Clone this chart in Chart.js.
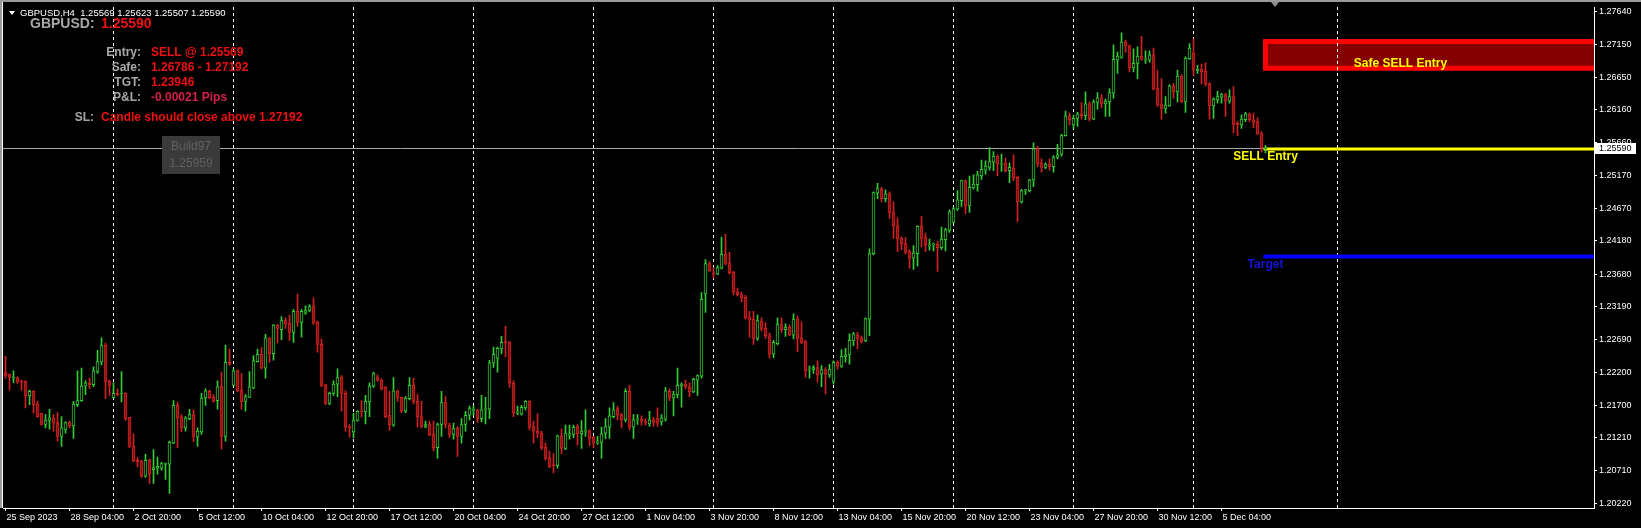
<!DOCTYPE html>
<html>
<head>
<meta charset="utf-8">
<script src="https://cdn.jsdelivr.net/npm/chart.js@4.4.1/dist/chart.umd.min.js"></script>
<style>
  html, body { margin: 0; padding: 0; background: #000; }
  #wrap { width: 1641px; height: 528px; position: relative; }
</style>
</head>
<body>
<div id="wrap"><canvas id="canvas"></canvas></div>
<script>
// GBPUSD H4, 25 Sep 2023 12:00 .. 7 Dec 2023 00:00 (one entry per bar)
const opens = [
  1.2220,1.2217,1.2211,1.2212,1.2207,1.2206,1.2184,1.2191,1.2172,1.2158,
  1.2141,1.2147,1.2151,1.2144,1.2123,1.2133,1.2144,1.2139,1.2171,1.2177,
  1.2199,1.2203,1.2201,1.2221,1.2235,1.2261,1.2206,1.2181,1.2188,1.2187,
  1.2188,1.2152,1.2108,1.2087,1.2086,1.2063,1.2088,1.2073,1.2075,1.2075,
  1.2081,1.2081,1.2113,1.2170,1.2153,1.2136,1.2150,1.2156,1.2122,1.2130,
  1.2181,1.2191,1.2182,1.2177,1.2199,1.2123,1.2235,1.2200,1.2222,1.2193,
  1.2176,1.2182,1.2196,1.2236,1.2247,1.2226,1.2272,1.2248,1.2291,1.2284,
  1.2298,1.2294,1.2280,1.2312,1.2295,1.2309,1.2313,1.2320,1.2296,1.2262,
  1.2201,1.2173,1.2188,1.2202,1.2213,1.2188,1.2138,1.2130,1.2147,1.2161,
  1.2160,1.2175,1.2199,1.2213,1.2208,1.2198,1.2155,1.2140,1.2192,1.2182,
  1.2161,1.2180,1.2200,1.2176,1.2153,1.2138,1.2142,1.2126,1.2106,1.2141,
  1.2174,1.2140,1.2126,1.2136,1.2123,1.2141,1.2155,1.2162,1.2163,1.2150,
  1.2163,1.2164,1.2234,1.2241,1.2255,1.2266,1.2265,1.2203,1.2158,1.2157,
  1.2166,1.2176,1.2138,1.2131,1.2128,1.2107,1.2091,1.2080,1.2079,1.2124,
  1.2105,1.2125,1.2126,1.2138,1.2127,1.2131,1.2132,1.2122,1.2113,1.2114,
  1.2128,1.2137,1.2153,1.2165,1.2156,1.2148,1.2191,1.2137,1.2148,1.2149,
  1.2146,1.2142,1.2148,1.2150,1.2145,1.2149,1.2191,1.2181,1.2186,1.2200,
  1.2202,1.2198,1.2190,1.2208,1.2214,1.2338,1.2384,1.2370,1.2368,1.2377,
  1.2398,1.2385,1.2371,1.2341,1.2337,1.2333,1.2303,1.2300,1.2271,1.2297,
  1.2286,1.2275,1.2247,1.2263,1.2292,1.2284,1.2288,1.2276,1.2300,1.2272,
  1.2266,1.2223,1.2224,1.2227,1.2217,1.2224,1.2216,1.2206,1.2235,1.2229,
  1.2243,1.2246,1.2267,1.2276,1.2272,1.2267,1.2300,1.2399,1.2490,1.2496,
  1.2482,1.2489,1.2461,1.2441,1.2422,1.2414,1.2402,1.2392,1.2399,1.2440,
  1.2423,1.2410,1.2412,1.2413,1.2408,1.2420,1.2434,1.2446,1.2466,1.2479,
  1.2509,1.2471,1.2498,1.2503,1.2516,1.2525,1.2529,1.2537,1.2546,1.2534,
  1.2535,1.2524,1.2528,1.2514,1.2477,1.2493,1.2494,1.2510,1.2557,1.2536,
  1.2529,1.2534,1.2530,1.2544,1.2549,1.2577,1.2607,1.2593,1.2603,1.2610,
  1.2607,1.2625,1.2602,1.2627,1.2634,1.2625,1.2628,1.2641,1.2691,1.2695,
  1.2718,1.2712,1.2679,1.2686,1.2697,1.2691,1.2691,1.2699,1.2648,1.2624,
  1.2618,1.2622,1.2652,1.2643,1.2667,1.2628,1.2693,1.2701,1.2675,1.2677,
  1.2674,1.2655,1.2622,1.2631,1.2635,1.2639,1.2629,1.2636,1.2596,1.2593,
  1.2601,1.2610,1.2601,1.2598,1.2580,1.25569
];
const highs = [
  1.2244,1.2217,1.2222,1.2213,1.2208,1.2207,1.2193,1.2192,1.2176,1.2158,
  1.2156,1.2164,1.2156,1.2159,1.2153,1.2145,1.2146,1.2176,1.2222,1.2226,
  1.2207,1.2211,1.2228,1.2253,1.2272,1.2264,1.2208,1.2204,1.2195,1.2221,
  1.2189,1.2152,1.2127,1.2091,1.2087,1.2096,1.2088,1.2103,1.2092,1.2084,
  1.2083,1.2116,1.2177,1.2175,1.2156,1.2153,1.2164,1.2163,1.2136,1.2188,
  1.2195,1.2193,1.2186,1.2207,1.2220,1.2261,1.2255,1.2225,1.2224,1.2218,
  1.2186,1.2221,1.2245,1.2255,1.2257,1.2277,1.2272,1.2292,1.2292,1.2304,
  1.2302,1.2306,1.2315,1.2338,1.2315,1.2320,1.2322,1.2332,1.2297,1.2270,
  1.2202,1.2190,1.2207,1.2225,1.2215,1.2192,1.2141,1.2158,1.2162,1.2177,
  1.2185,1.2204,1.2220,1.2216,1.2210,1.2198,1.2191,1.2212,1.2193,1.2182,
  1.2183,1.2212,1.2211,1.2186,1.2176,1.2146,1.2146,1.2146,1.2143,1.2191,
  1.2183,1.2143,1.2143,1.2138,1.2150,1.2161,1.2169,1.2169,1.2164,1.2185,
  1.2182,1.2238,1.2258,1.2258,1.2274,1.2289,1.2266,1.2207,1.2169,1.2170,
  1.2177,1.2177,1.2146,1.2157,1.2131,1.2113,1.2101,1.2097,1.2125,1.2134,
  1.2140,1.2140,1.2140,1.2141,1.2147,1.2163,1.2133,1.2123,1.2123,1.2137,
  1.2150,1.2166,1.2174,1.2169,1.2158,1.2195,1.2200,1.2156,1.2156,1.2154,
  1.2150,1.2161,1.2152,1.2166,1.2156,1.2197,1.2195,1.2191,1.2226,1.2204,
  1.2208,1.2204,1.2211,1.2216,1.2340,1.2390,1.2387,1.2378,1.2381,1.2424,
  1.2428,1.2401,1.2372,1.2347,1.2341,1.2336,1.2312,1.2312,1.2306,1.2302,
  1.2295,1.2279,1.2268,1.2302,1.2302,1.2293,1.2291,1.2308,1.2305,1.2296,
  1.2268,1.2229,1.2230,1.2237,1.2230,1.2227,1.2232,1.2237,1.2237,1.2254,
  1.2256,1.2278,1.2280,1.2280,1.2275,1.2302,1.2406,1.2492,1.2505,1.2499,
  1.2495,1.2492,1.2477,1.2453,1.2424,1.2423,1.2405,1.2411,1.2441,1.2455,
  1.2430,1.2421,1.2415,1.2418,1.2439,1.2437,1.2465,1.2469,1.2494,1.2510,
  1.2510,1.2516,1.2518,1.2523,1.2540,1.2539,1.2559,1.2553,1.2548,1.2549,
  1.2543,1.2536,1.2548,1.2516,1.2496,1.2496,1.2511,1.2566,1.2561,1.2542,
  1.2536,1.2542,1.2547,1.2564,1.2579,1.2614,1.2611,1.2608,1.2612,1.2627,
  1.2643,1.2628,1.2631,1.2642,1.2639,1.2632,1.2648,1.2714,1.2703,1.2732,
  1.2721,1.2714,1.2708,1.2711,1.2727,1.2705,1.2705,1.2709,1.2676,1.2663,
  1.2636,1.2654,1.2656,1.2676,1.2669,1.2696,1.2716,1.2723,1.2683,1.2685,
  1.2687,1.2657,1.2634,1.2644,1.2641,1.2641,1.2646,1.2651,1.2598,1.2608,
  1.2612,1.2611,1.2611,1.2604,1.2583,1.25623
];
const lows = [
  1.2211,1.2193,1.2204,1.2203,1.2193,1.2166,1.2171,1.2158,1.2152,1.2140,
  1.2136,1.2134,1.2131,1.2116,1.2108,1.2128,1.2136,1.2120,1.2168,1.2176,
  1.2186,1.2195,1.2198,1.2218,1.2231,1.2180,1.2185,1.2181,1.2184,1.2175,
  1.2147,1.2106,1.2085,1.2077,1.2061,1.2061,1.2052,1.2052,1.2066,1.2072,
  1.2058,1.2037,1.2112,1.2106,1.2130,1.2131,1.2148,1.2115,1.2108,1.2126,
  1.2170,1.2180,1.2175,1.2164,1.2104,1.2116,1.2230,1.2199,1.2191,1.2164,
  1.2161,1.2182,1.2195,1.2235,1.2225,1.2211,1.2235,1.2238,1.2264,1.2269,
  1.2286,1.2268,1.2265,1.2289,1.2273,1.2307,1.2311,1.2292,1.2250,1.2198,
  1.2171,1.2171,1.2185,1.2183,1.2161,1.2131,1.2122,1.2121,1.2146,1.2152,
  1.2142,1.2153,1.2197,1.2206,1.2193,1.2151,1.2132,1.2138,1.2176,1.2159,
  1.2159,1.2178,1.2172,1.2137,1.2136,1.2136,1.2124,1.2101,1.2090,1.2123,
  1.2136,1.2121,1.2119,1.2093,1.2113,1.2131,1.2148,1.2155,1.2144,1.2145,
  1.2142,1.2150,1.2227,1.2220,1.2248,1.2243,1.2197,1.2153,1.2156,1.2155,
  1.2163,1.2133,1.2113,1.2121,1.2103,1.2087,1.2076,1.2068,1.2075,1.2097,
  1.2103,1.2119,1.2121,1.2110,1.2105,1.2123,1.2109,1.2106,1.2111,1.2090,
  1.2120,1.2120,1.2151,1.2148,1.2136,1.2145,1.2133,1.2120,1.2141,1.2140,
  1.2140,1.2138,1.2138,1.2138,1.2140,1.2146,1.2177,1.2154,1.2181,1.2167,
  1.2195,1.2183,1.2189,1.2185,1.2211,1.2310,1.2372,1.2362,1.2367,1.2376,
  1.2382,1.2368,1.2337,1.2335,1.2326,1.2300,1.2273,1.2262,1.2268,1.2282,
  1.2271,1.2241,1.2242,1.2261,1.2280,1.2274,1.2275,1.2270,1.2251,1.2263,
  1.2212,1.2211,1.2218,1.2205,1.2198,1.2187,1.2212,1.2202,1.2224,1.2227,
  1.2235,1.2232,1.2260,1.2255,1.2264,1.2266,1.2275,1.2397,1.2482,1.2477,
  1.2477,1.2452,1.2422,1.2402,1.2405,1.2398,1.2377,1.2375,1.2380,1.2409,
  1.2402,1.2404,1.2403,1.2372,1.2405,1.2403,1.2431,1.2445,1.2464,1.2470,
  1.2459,1.2461,1.2496,1.2493,1.2511,1.2519,1.2525,1.2524,1.2516,1.2523,
  1.2522,1.2506,1.2509,1.2447,1.2475,1.2488,1.2492,1.2500,1.2530,1.2522,
  1.2527,1.2525,1.2522,1.2542,1.2546,1.2576,1.2593,1.2588,1.2591,1.2602,
  1.2601,1.2599,1.2601,1.2617,1.2619,1.2606,1.2606,1.2633,1.2671,1.2694,
  1.2703,1.2673,1.2673,1.2663,1.2691,1.2686,1.2688,1.2646,1.2621,1.2602,
  1.2611,1.2621,1.2633,1.2628,1.2627,1.2612,1.2692,1.2668,1.2671,1.2655,
  1.2652,1.2602,1.2603,1.2626,1.2626,1.2606,1.2626,1.2581,1.2577,1.2588,
  1.2598,1.2598,1.2589,1.2579,1.2552,1.25507
];
const closes = [
  1.2215,1.2212,1.2213,1.2205,1.2205,1.2184,1.2191,1.2171,1.2153,1.2141,
  1.2147,1.2151,1.2143,1.2123,1.2136,1.2144,1.2139,1.2172,1.2177,1.2199,
  1.2204,1.2201,1.2222,1.2236,1.2260,1.2206,1.2200,1.2188,1.2186,1.2188,
  1.2150,1.2108,1.2086,1.2084,1.2063,1.2087,1.2066,1.2076,1.2078,1.2082,
  1.2082,1.2114,1.2170,1.2151,1.2136,1.2151,1.2156,1.2123,1.2131,1.2181,
  1.2192,1.2181,1.2176,1.2198,1.2123,1.2235,1.2232,1.2222,1.2192,1.2176,
  1.2183,1.2198,1.2237,1.2247,1.2226,1.2272,1.2248,1.2291,1.2286,1.2298,
  1.2293,1.2280,1.2312,1.2295,1.2312,1.2313,1.2319,1.2294,1.2262,1.2200,
  1.2173,1.2188,1.2202,1.2212,1.2188,1.2137,1.2136,1.2147,1.2161,1.2160,
  1.2176,1.2199,1.2218,1.2208,1.2195,1.2153,1.2140,1.2192,1.2182,1.2161,
  1.2181,1.2200,1.2176,1.2153,1.2138,1.2141,1.2125,1.2106,1.2141,1.2174,
  1.2141,1.2126,1.2135,1.2123,1.2141,1.2155,1.2165,1.2163,1.2150,1.2163,
  1.2164,1.2234,1.2247,1.2256,1.2265,1.2264,1.2204,1.2159,1.2160,1.2167,
  1.2176,1.2137,1.2131,1.2128,1.2106,1.2090,1.2077,1.2079,1.2124,1.2105,
  1.2128,1.2127,1.2137,1.2127,1.2131,1.2132,1.2120,1.2113,1.2114,1.2127,
  1.2138,1.2154,1.2163,1.2155,1.2148,1.2191,1.2137,1.2148,1.2149,1.2146,
  1.2144,1.2148,1.2144,1.2143,1.2151,1.2192,1.2181,1.2186,1.2200,1.2202,
  1.2198,1.2190,1.2209,1.2215,1.2330,1.2384,1.2373,1.2368,1.2378,1.2398,
  1.2384,1.2370,1.2341,1.2337,1.2332,1.2302,1.2299,1.2271,1.2298,1.2285,
  1.2275,1.2247,1.2265,1.2292,1.2284,1.2288,1.2276,1.2300,1.2271,1.2265,
  1.2222,1.2224,1.2227,1.2216,1.2224,1.2217,1.2224,1.2235,1.2229,1.2244,
  1.2246,1.2268,1.2278,1.2271,1.2266,1.2301,1.2399,1.2491,1.2497,1.2482,
  1.2489,1.2461,1.2441,1.2421,1.2414,1.2401,1.2392,1.2400,1.2440,1.2422,
  1.2412,1.2412,1.2413,1.2408,1.2421,1.2435,1.2462,1.2467,1.2480,1.2509,
  1.2471,1.2499,1.2504,1.2518,1.2526,1.2531,1.2538,1.2546,1.2534,1.2535,
  1.2524,1.2529,1.2513,1.2477,1.2494,1.2495,1.2510,1.2557,1.2535,1.2529,
  1.2534,1.2530,1.2544,1.2548,1.2577,1.2607,1.2601,1.2603,1.2610,1.2607,
  1.2625,1.2602,1.2628,1.2634,1.2625,1.2629,1.2642,1.2692,1.2697,1.2718,
  1.2712,1.2679,1.2686,1.2697,1.2692,1.2692,1.2699,1.2647,1.2623,1.2618,
  1.2623,1.2652,1.2643,1.2667,1.2628,1.2694,1.2709,1.2676,1.2677,1.2673,
  1.2655,1.2622,1.2632,1.2636,1.2639,1.2629,1.2636,1.2594,1.2593,1.2602,
  1.2610,1.2601,1.2597,1.2580,1.2558,1.25590
];

const priceTicks = [1.27640, 1.27150, 1.26650, 1.26160, 1.25660, 1.25170, 1.24670, 1.24180,
  1.23680, 1.23190, 1.22690, 1.22200, 1.21700, 1.21210, 1.20710, 1.20220];
// one time label every 16 bars
const dateLabels = ['25 Sep 2023', '28 Sep 04:00', '2 Oct 20:00', '5 Oct 12:00', '10 Oct 04:00',
  '12 Oct 20:00', '17 Oct 12:00', '20 Oct 04:00', '24 Oct 20:00', '27 Oct 12:00', '1 Nov 04:00',
  '3 Nov 20:00', '8 Nov 12:00', '13 Nov 04:00', '15 Nov 20:00', '20 Nov 12:00', '23 Nov 04:00',
  '27 Nov 20:00', '30 Nov 12:00', '5 Dec 04:00'];
// bars where a week starts (Monday 00:00), plus one in the shifted future area
const weekLines = [27, 57, 87, 117, 147, 177, 207, 237, 267, 297, 333];

const bid = 1.25590;
const sellEntry = 1.25569;
const safeLow = 1.26786, safeHigh = 1.27192;
const target = 1.23946;

const BULL = '#32cd32', BEAR = '#d42020';
const FONT = 'Liberation Sans';

const up = closes.map((c, i) => c >= opens[i]);
const bodies = opens.map((o, i) => ({ x: i, y: [o, closes[i]] }));
const wicks = lows.map((l, i) => ({ x: i, y: [l, highs[i]] }));

const overlay = {
  id: 'overlay',
  beforeDraw(chart) {
    const { ctx, chartArea: a, scales: { x, y } } = chart;
    ctx.save();
    ctx.fillStyle = '#000';
    ctx.fillRect(0, 0, chart.width, chart.height);
    // safe sell zone
    const xl = x.getPixelForValue(314.5) + 2;
    const yt = y.getPixelForValue(safeHigh), yb = y.getPixelForValue(safeLow);
    ctx.fillStyle = '#850000';
    ctx.fillRect(xl, yt, a.right - xl, yb - yt);
    ctx.strokeStyle = '#ff0000';
    ctx.lineWidth = 5;
    ctx.beginPath();
    ctx.moveTo(a.right, yt); ctx.lineTo(xl, yt); ctx.lineTo(xl, yb); ctx.lineTo(a.right, yb);
    ctx.stroke();
    ctx.restore();
  },
  beforeDatasetsDraw(chart) {
    const { ctx, chartArea: a, scales: { x, y } } = chart;
    const xl = x.getPixelForValue(314.5);
    ctx.save();
    // bid line
    const yb = Math.round(y.getPixelForValue(bid)) + 0.5;
    ctx.strokeStyle = '#a8a8a8';
    ctx.lineWidth = 1;
    ctx.beginPath(); ctx.moveTo(a.left, yb); ctx.lineTo(a.right, yb); ctx.stroke();
    // sell entry
    ctx.strokeStyle = '#ffff00';
    ctx.lineWidth = 3;
    const ys = y.getPixelForValue(sellEntry);
    ctx.beginPath(); ctx.moveTo(xl, ys); ctx.lineTo(a.right, ys); ctx.stroke();
    // target
    ctx.strokeStyle = '#0000ff';
    ctx.lineWidth = 4;
    const yg = y.getPixelForValue(target);
    ctx.beginPath(); ctx.moveTo(xl, yg); ctx.lineTo(a.right, yg); ctx.stroke();
    ctx.restore();
  },
  afterDraw(chart) {
    const { ctx, chartArea: a, scales: { x, y } } = chart;
    const xl = x.getPixelForValue(314.5);
    ctx.save();
    ctx.textBaseline = 'middle';

    // labels for the levels
    ctx.font = `bold 12px ${FONT}`;
    ctx.textAlign = 'center';
    ctx.fillStyle = '#ffff00';
    ctx.fillText('Safe SELL Entry', xl + 137, y.getPixelForValue(safeLow) - 5);
    ctx.fillText('SELL Entry', xl + 2, y.getPixelForValue(sellEntry) + 8);
    ctx.fillStyle = '#1414d8';
    ctx.fillText('Target', xl + 2, y.getPixelForValue(target) + 8);

    // header
    ctx.fillStyle = '#fff';
    ctx.beginPath(); ctx.moveTo(9, 11); ctx.lineTo(15, 11); ctx.lineTo(12, 15); ctx.closePath(); ctx.fill();
    ctx.textAlign = 'left';
    ctx.font = `9.5px ${FONT}`;
    ctx.fillText('GBPUSD,H4  1.25569 1.25623 1.25507 1.25590', 20, 13);

    ctx.font = `bold 14px ${FONT}`;
    ctx.fillStyle = '#a9a9a9';
    ctx.fillText('GBPUSD:', 30, 24);
    ctx.fillStyle = '#ee1111';
    ctx.fillText(bid.toFixed(5), 101, 24);

    const rows = [
      ['Entry:', 'SELL @ ' + sellEntry.toFixed(5), '#ee1111', 52.5],
      ['Safe:', safeLow.toFixed(5) + ' - ' + safeHigh.toFixed(5), '#ee1111', 67.5],
      ['TGT:', target.toFixed(5), '#ee1111', 82.5],
      ['P&L:', '-0.00021 Pips', '#d4204c', 97.5]
    ];
    ctx.font = `bold 12px ${FONT}`;
    rows.forEach(([k, v, c, yy]) => {
      ctx.textAlign = 'right'; ctx.fillStyle = '#a9a9a9'; ctx.fillText(k, 141, yy);
      ctx.textAlign = 'left'; ctx.fillStyle = c; ctx.fillText(v, 151, yy);
    });
    ctx.textAlign = 'right'; ctx.fillStyle = '#a9a9a9'; ctx.fillText('SL:', 94, 117.5);
    ctx.textAlign = 'left'; ctx.fillStyle = '#ee1111';
    ctx.fillText('Candle should close above ' + safeHigh.toFixed(5), 101, 117.5);

    // build box
    ctx.fillStyle = '#3a3a3a';
    ctx.fillRect(162, 136, 58, 38);
    ctx.fillStyle = '#626262';
    ctx.font = `12px ${FONT}`;
    ctx.textAlign = 'center';
    ctx.fillText('Build97', 191, 147);
    ctx.fillText('1.25959', 191, 163.5);

    // bid price label on the axis
    const yb = Math.round(y.getPixelForValue(bid));
    ctx.fillStyle = '#fff';
    ctx.fillRect(a.right + 1, yb - 5, 41, 11);
    ctx.fillStyle = '#000';
    ctx.textAlign = 'left';
    ctx.font = `9px ${FONT}`;
    ctx.fillText(bid.toFixed(5), a.right + 5, yb + 0.5);

    // window frame and chart-shift marker
    ctx.fillStyle = '#9a9a9a';
    ctx.fillRect(0, 0, chart.width, 2);
    ctx.fillRect(0, 0, 2, a.bottom);
    ctx.fillStyle = '#fff';
    ctx.fillRect(2, 2, 1, a.bottom - 2);
    ctx.fillStyle = '#8c8c8c';
    ctx.beginPath(); ctx.moveTo(1271, 2); ctx.lineTo(1279, 2); ctx.lineTo(1275, 7); ctx.closePath(); ctx.fill();
    ctx.restore();
  }
};

new Chart(document.getElementById('canvas').getContext('2d'), {
  type: 'bar',
  data: {
    datasets: [
      {
        label: 'body',
        data: bodies,
        order: 1,
        grouped: false,
        barThickness: 3,
        minBarLength: 1,
        backgroundColor: up.map((u) => (u ? '#000' : '#861010')),
        borderColor: up.map((u) => (u ? BULL : BEAR)),
        borderWidth: 1,
        borderSkipped: false
      },
      {
        label: 'wick',
        data: wicks,
        order: 2,
        grouped: false,
        barThickness: 1,
        backgroundColor: up.map((u) => (u ? BULL : BEAR)),
        borderWidth: 0
      }
    ]
  },
  options: {
    responsive: true,
    maintainAspectRatio: false,
    animation: false,
    layout: { padding: { left: 3, top: 3, right: 0, bottom: 0 } },
    plugins: { legend: { display: false }, tooltip: { enabled: false } },
    scales: {
      x: {
        type: 'linear',
        position: 'bottom',
        min: -0.625,
        max: 397.125,
        offset: false,
        afterBuildTicks: (s) => { s.ticks = dateLabels.map((_, i) => ({ value: i * 16 })); },
        afterFit: (s) => { s.height = 20; },
        ticks: {
          autoSkip: false,
          maxRotation: 0,
          align: 'start',
          labelOffset: 1,
          padding: 1,
          color: '#fff',
          font: { family: FONT, size: 9 },
          callback: (v) => dateLabels[Math.round(v / 16)]
        },
        grid: { offset: false, drawOnChartArea: false, color: '#fff', tickLength: 3 },
        border: { color: '#fff' }
      },
      xg: {
        type: 'linear',
        position: 'top',
        min: -0.625,
        max: 397.125,
        offset: false,
        afterBuildTicks: (s) => { s.ticks = weekLines.map((v) => ({ value: v })); },
        afterFit: (s) => { s.height = 0; },
        ticks: { display: false },
        grid: { offset: false, color: '#fff', drawTicks: false, lineWidth: 1 },
        border: { display: false, dash: [3, 3] }
      },
      y: {
        type: 'linear',
        position: 'right',
        min: 1.20150,
        max: 1.27705,
        afterBuildTicks: (s) => { s.ticks = priceTicks.map((v) => ({ value: v })); },
        afterFit: (s) => { s.width = 47; },
        ticks: {
          color: '#fff',
          padding: 2,
          font: { family: FONT, size: 9 },
          callback: (v) => v.toFixed(5)
        },
        grid: { drawOnChartArea: false, color: '#fff', tickLength: 3 },
        border: { color: '#fff' }
      }
    }
  },
  plugins: [overlay]
});
</script>
</body>
</html>
